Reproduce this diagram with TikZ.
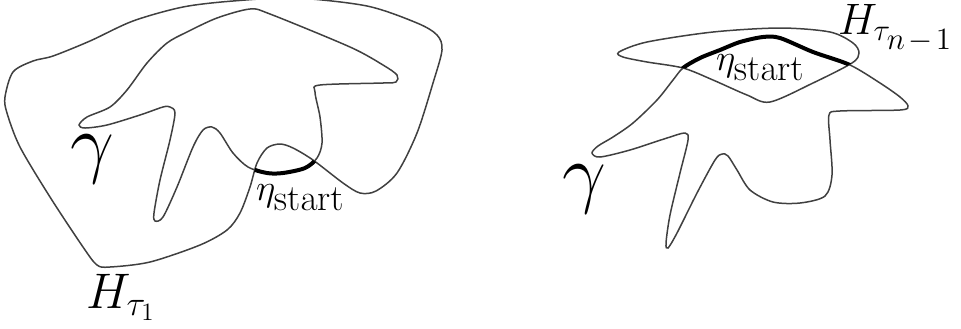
\RequirePackage{fix-cm}
\documentclass[tikz,border=0pt]{standalone}
\begin{document}
\tikzset{
  curve/.style={draw=black!75, line width=0.75pt},
  etaline/.style={draw=black, line width=2pt},
  lbl/.style={inner sep=0pt, outer sep=0pt},
}
\begin{tikzpicture}[x=0.5pt,y=-0.5pt]
\useasboundingbox (0,0) rectangle (961,328);
% ---------- left figure ----------
% H_tau1 (outer)
\draw[curve] plot[smooth cycle] coordinates {
 (5,97) (13,72) (33,61) (53,56) (90,41) (133,21) (183,7) (233,1) (295,-2) (367,6)
 (417,23) (437,35) (442,50) (433,83) (417,133) (397,173) (376,191) (360,193)
 (343,183) (313,160) (293,148) (280,144) (267,148) (257,163) (250,187) (240,213)
 (227,230) (200,245) (150,262) (110,267) (97,265) (83,247) (50,197) (20,147) (7,113)};
% gamma (left)
\draw[curve] plot[smooth cycle] coordinates {
 (79,125) (87,117) (110,107) (127,90) (147,63) (167,43) (187,32) (217,18) (250,9)
 (270,14) (350,47) (383,65) (397,75) (396,82) (383,83) (320,85) (315,92) (320,117)
 (322,143) (317,158) (305,168) (283,173) (267,173) (248,167) (233,153) (220,133)
 (212,127) (203,130) (193,147) (177,187) (163,217) (155,221) (154,213) (160,180)
 (170,140) (175,113) (170,107) (163,107) (140,115) (107,125) (85,128)};
% eta_start (left): part of gamma outside H
\begin{scope}
 \clip (245,148) rectangle (326,186);
 \begin{scope}[even odd rule]
  \clip (-20,-20) rectangle (980,350)
   plot[smooth cycle] coordinates {
 (5,97) (13,72) (33,61) (53,56) (90,41) (133,21) (183,7) (233,1) (295,-2) (367,6)
 (417,23) (437,35) (442,50) (433,83) (417,133) (397,173) (376,191) (360,193)
 (343,183) (313,160) (293,148) (280,144) (267,148) (257,163) (250,187) (240,213)
 (227,230) (200,245) (150,262) (110,267) (97,265) (83,247) (50,197) (20,147) (7,113)};
  \draw[etaline] plot[smooth cycle] coordinates {
 (79,125) (87,117) (110,107) (127,90) (147,63) (167,43) (187,32) (217,18) (250,9)
 (270,14) (350,47) (383,65) (397,75) (396,82) (383,83) (320,85) (315,92) (320,117)
 (322,143) (317,158) (305,168) (283,173) (267,173) (248,167) (233,153) (220,133)
 (212,127) (203,130) (193,147) (177,187) (163,217) (155,221) (154,213) (160,180)
 (170,140) (175,113) (170,107) (163,107) (140,115) (107,125) (85,128)};
 \end{scope}
\end{scope}
\node[lbl] (gL) at (92,159) {\fontsize{39}{44}\selectfont$\gamma$};
\node[lbl, anchor=base west] (HL) at (86,308) {\fontsize{25}{29}\selectfont$H_{\tau_1}$};
\node[lbl, anchor=base west] (eL) at (256,200) {\fontsize{18.5}{22}\selectfont$\eta_{\textstyle\mathrm{start}}$};
% ---------- right figure ----------
% H_tau_{n-1} loop
\draw[curve] plot[smooth cycle] coordinates {
 (619,52) (647,42) (713,32) (780,28) (830,32) (853,43) (859,53) (852,63)
 (813,83) (770,102) (747,95) (713,80) (683,68) (647,62) (623,57)};
% gamma (right)
\draw[curve] plot[smooth cycle] coordinates {
 (592,153) (598,146) (613,137) (633,123) (657,100) (673,80) (683,68) (700,58)
 (720,50) (740,42) (763,37) (780,38) (813,52) (850,65) (880,83) (900,97) (908,106)
 (900,110) (840,111) (829,115) (830,140) (832,175) (825,196) (800,203) (773,202)
 (750,190) (737,170) (728,156) (722,154) (715,160) (697,193) (677,233) (668,248)
 (666,243) (670,215) (680,173) (688,140) (685,133) (667,138) (630,150) (600,157)};
% eta_start (right): part of gamma inside H
\begin{scope}
 \clip plot[smooth cycle] coordinates {
 (619,52) (647,42) (713,32) (780,28) (830,32) (853,43) (859,53) (852,63)
 (813,83) (770,102) (747,95) (713,80) (683,68) (647,62) (623,57)};
 \draw[etaline] plot[smooth cycle] coordinates {
 (592,153) (598,146) (613,137) (633,123) (657,100) (673,80) (683,68) (700,58)
 (720,50) (740,42) (763,37) (780,38) (813,52) (850,65) (880,83) (900,97) (908,106)
 (900,110) (840,111) (829,115) (830,140) (832,175) (825,196) (800,203) (773,202)
 (750,190) (737,170) (728,156) (722,154) (715,160) (697,193) (677,233) (668,248)
 (666,243) (670,215) (680,173) (688,140) (685,133) (667,138) (630,150) (600,157)};
\end{scope}
\node[lbl] (gR) at (584,189) {\fontsize{39}{44}\selectfont$\gamma$};
\node[lbl, anchor=base west] (HR) at (838,34) {\fontsize{22}{26}\selectfont$H_{\tau_{\hbox{\fontsize{15.5}{18}\selectfont$n\mkern2mu{-}\mkern2mu1$}}}$};
\node[lbl, anchor=base west] (eR) at (716,70) {\fontsize{18.5}{22}\selectfont$\eta_{\textstyle\mathrm{start}}$};
\end{tikzpicture}
\end{document}
